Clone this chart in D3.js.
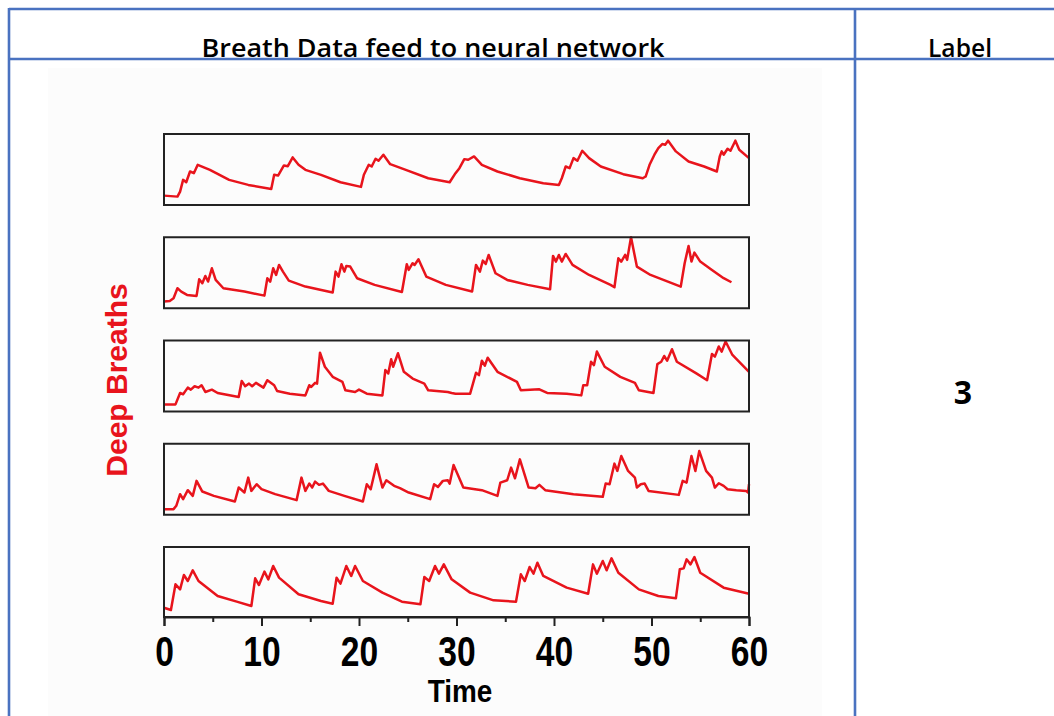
<!DOCTYPE html>
<html>
<head>
<meta charset="utf-8">
<script src="https://cdn.jsdelivr.net/npm/d3@7"></script>
<style>
  body { margin: 0; background: #fff; }
  svg { display: block; }
</style>
</head>
<body>
<svg id="chart" width="1054" height="716"></svg>
<script>
// breath signals: [time, level 0-100]
var deep1 = [[0,13.2],[1.38,11.8],[1.65,18.9],[1.96,35.4],[2.28,32.1],[2.67,47.2],[3.06,44.8],[3.46,56.6],[4.71,49.5],[6.68,35.4],[8.64,28.3],[11.0,22.6],
  [11.3,42.5],[11.7,41.5],[12.3,55.7],[12.7,54.7],[13.2,67.0],[13.8,56.6],[14.5,49.5],[16.1,42.5],[18.1,32.1],[20.2,25.5],
  [20.5,42.5],[21.0,56.6],[21.3,54.2],[21.7,65.1],[22.0,62.3],[22.5,70.8],[23.2,57.5],[24.8,49.5],[27.1,37.7],[29.3,32.1],
  [29.9,44.8],[30.3,51.9],[30.8,64.6],[31.2,63.7],[31.8,68.4],[32.6,56.6],[34.2,47.2],[36.5,37.7],[38.9,30.7],[40.5,28.3],
  [40.8,37.7],[41.2,54.2],[41.6,51.9],[42.0,66.0],[42.4,62.3],[42.9,76.4],[43.6,66.0],[44.8,54.2],[47.1,43.4],[49.1,37.7],[49.4,40.1],
  [49.8,56.6],[50.3,70.8],[50.7,80.2],[51.1,85.8],[51.4,84.9],[51.7,90.6],[52.5,75.5],[53.8,61.3],[55.4,54.2],[56.7,47.2],
  [57.0,68.4],[57.2,75.5],[57.4,70.8],[57.8,79.2],[58.1,76.4],[58.6,90.6],[59.0,77.8],[60.0,66.0]];

var deep2 = [[0,9.4],[0.59,10.3],[0.98,14.1],[1.38,28.2],[1.77,23.5],[2.36,18.8],[3.34,17.4],
  [3.61,40.8],[3.93,35.2],[4.24,45.5],[4.52,37.6],[4.91,56.3],[5.30,39.9],[6.09,28.2],[8.25,23.5],[10.3,17.8],
  [10.6,42.3],[10.9,37.6],[11.2,56.3],[11.5,46.9],[11.8,61.0],[12.2,51.6],[12.8,39.0],[14.5,30.5],[17.3,22.1],
  [17.6,51.6],[17.9,44.6],[18.2,62.0],[18.5,51.6],[18.7,59.6],[19.1,58.7],[19.8,42.3],[21.6,32.9],[24.4,23.0],
  [24.9,62.0],[25.1,54.0],[25.5,63.4],[25.7,61.0],[26.1,69.0],[26.9,44.6],[28.9,32.9],[31.6,23.5],
  [32.0,61.0],[32.4,51.6],[32.7,67.1],[33.0,62.4],[33.3,75.1],[34.0,49.3],[35.2,39.9],[37.3,32.9],[39.6,26.8],
  [39.9,73.7],[40.2,65.7],[40.5,75.1],[40.8,65.7],[41.2,76.5],[41.9,61.0],[43.6,46.9],[45.8,32.9],[46.2,29.6],
  [46.6,70.4],[46.9,65.7],[47.3,75.1],[47.5,68.1],[47.9,100],[48.5,58.7],[49.9,46.9],[53.0,30.5],
  [53.4,63.4],[53.8,87.8],[54.1,65.7],[54.4,78.4],[55.0,65.7],[56.2,54.0],[57.4,42.3],[58.2,36.6]];

var deep3 = [[0,10.0],[1.18,10.0],[1.65,26.1],[1.96,24.2],[2.44,33.6],[2.75,30.8],[3.14,35.5],[3.54,33.6],[3.85,37.0],[4.24,27.5],[4.91,30.8],[5.50,26.1],[7.66,20.4],
  [7.97,43.1],[8.33,35.5],[8.72,39.3],[9.04,35.5],[9.43,40.3],[10.2,33.6],[10.6,44.1],[11.3,37.0],[11.6,28.9],[12.9,25.1],[14.5,22.7],
  [14.9,37.0],[15.1,34.6],[15.5,40.3],[15.7,39.3],[16.0,82.9],[16.5,63.0],[17.3,48.8],[18.3,41.7],[18.6,29.9],[19.6,27.5],[20.0,30.8],[20.8,25.1],[22.4,22.7],
  [22.7,58.3],[23.0,53.6],[23.3,73.5],[23.5,63.0],[24.0,82.0],[24.6,55.9],[25.5,46.4],[26.7,39.3],[27.1,29.9],[29.1,27.5],[29.5,26.1],[29.9,25.1],[31.4,25.1],
  [32.0,54.5],[32.3,51.2],[32.6,71.6],[32.9,64.5],[33.2,75.8],[34.2,55.9],[36.2,41.7],[36.6,29.9],[38.5,31.3],[39.3,26.1],[41.3,25.1],[42.8,22.7],
  [43.0,37.0],[43.4,37.0],[43.8,70.1],[44.1,65.4],[44.4,84.4],[45.2,63.0],[46.8,48.8],[48.3,40.3],[48.7,29.9],[50.2,26.1],
  [50.6,66.8],[51.0,70.1],[51.3,78.2],[51.6,71.6],[52.1,87.7],[52.6,70.1],[54.6,53.6],[55.7,44.1],
  [56.2,81.0],[56.5,77.3],[56.9,91.5],[57.2,84.4],[57.6,98.6],[58.3,79.6],[60.0,55.9]];

var deep4 = [[0,7.9],[0.98,7.9],[1.26,12.6],[1.65,29.0],[1.96,22.0],[2.44,34.6],[2.95,26.6],[3.34,47.7],[3.93,32.7],[5.11,26.6],[7.27,18.7],
  [7.66,38.3],[8.25,31.3],[8.64,52.3],[8.96,33.6],[9.50,43.0],[10.0,36.0],[11.4,29.0],[13.6,20.6],
  [14.1,52.3],[14.5,33.6],[14.9,43.9],[15.2,38.3],[15.5,46.7],[15.9,42.1],[16.3,43.9],[16.9,33.6],[18.5,26.6],[20.4,18.7],
  [20.8,43.0],[21.2,36.0],[21.8,71.0],[22.4,38.3],[22.8,48.6],[23.6,40.7],[24.2,37.4],[25.1,31.3],[27.3,22.0],
  [27.7,43.0],[28.1,39.3],[28.6,47.7],[29.1,48.6],[29.3,43.9],[29.7,70.1],[30.7,38.3],[32.6,34.6],[34.2,26.6],
  [34.5,45.3],[35.2,48.6],[35.6,66.4],[36.0,51.4],[36.5,78.0],[37.4,38.3],[38.1,37.4],[38.5,42.1],[39.1,34.6],[42.0,29.0],[45.0,25.2],
  [45.3,43.9],[45.7,43.0],[46.2,72.0],[46.5,61.7],[46.9,82.7],[47.6,61.7],[48.3,52.3],[48.5,38.3],[48.9,43.0],[49.3,43.9],[49.7,33.6],[52.8,28.0],
  [53.2,47.7],[53.6,45.3],[54.1,82.7],[54.5,61.7],[54.9,89.7],[55.6,61.7],[56.2,52.3],[56.5,38.3],[56.9,44.4],[57.4,40.7],[57.8,36.0],[58.7,34.6],[59.7,33.6],[59.9,31.3],[60.0,43.0]];

var deep5 = [[0,13.3],[0.71,10.0],[1.18,46.7],[1.65,39.5],[2.04,60.0],[2.44,51.4],[2.95,66.7],[3.54,51.4],[5.50,30.0],[7.46,21.9],[8.96,15.7],
  [9.35,55.2],[9.74,45.7],[10.3,64.8],[10.7,53.8],[11.2,72.9],[11.8,56.2],[13.8,32.4],[16.1,22.9],[17.3,19.0],
  [17.7,56.2],[18.1,47.6],[18.7,72.9],[19.2,58.6],[19.6,72.9],[20.4,51.4],[22.4,34.8],[24.4,21.9],[26.3,18.1],
  [26.7,57.1],[27.2,51.4],[27.8,72.9],[28.2,61.9],[28.7,75.2],[29.5,53.8],[31.4,34.8],[33.8,23.8],[36.1,21.9],
  [36.6,61.0],[37.0,51.4],[37.5,71.4],[37.9,61.9],[38.3,77.6],[38.9,58.6],[41.3,41.9],[43.5,33.3],
  [44.0,75.2],[44.4,61.9],[45.0,80.0],[45.4,66.7],[45.9,83.8],[46.6,63.3],[48.7,39.5],[50.7,30.0],[52.5,26.7],
  [52.9,68.1],[53.3,69.5],[53.6,82.4],[54.0,75.2],[54.4,85.7],[55.0,63.3],[57.4,41.9],[60.0,33.3]];

var panels = [deep1, deep2, deep3, deep4, deep5];
var timeTicks = [0, 10, 20, 30, 40, 50, 60];
var minorTicks = [5, 15, 25, 35, 45, 55];
var headerTitle = "Breath Data feed to neural network";
var labelTitle = "Label";
var labelValue = "3";
var yTitle = "Deep Breaths";
var xTitle = "Time";

var svg = d3.select("#chart");
var blue = "#4a72c0";
var red = "#e8141c";

// pasted picture background
svg.append("rect").attr("x", 48).attr("y", 68).attr("width", 774).attr("height", 648).attr("fill", "#fcfcfc");

// table lines
var tbl = svg.append("g").attr("stroke", blue).attr("stroke-width", 2.6).attr("fill", "none");
tbl.append("line").attr("x1", 9).attr("x2", 1054).attr("y1", 9).attr("y2", 9);
tbl.append("line").attr("x1", 9).attr("x2", 1054).attr("y1", 59).attr("y2", 59);
tbl.append("line").attr("x1", 9).attr("x2", 9).attr("y1", 8).attr("y2", 716);
tbl.append("line").attr("x1", 855).attr("x2", 855).attr("y1", 8).attr("y2", 716);

svg.append("text").attr("x", 433).attr("y", 57).attr("text-anchor", "middle")
    .attr("font-family", "Open Sans, sans-serif").attr("font-size", 26).attr("font-weight", 600)
    .attr("textLength", 463).attr("lengthAdjust", "spacingAndGlyphs")
    .attr("fill", "#000").text(headerTitle);
svg.append("text").attr("x", 960).attr("y", 57).attr("text-anchor", "middle")
    .attr("font-family", "Open Sans, sans-serif").attr("font-size", 26).attr("font-weight", 600)
    .attr("textLength", 64).attr("lengthAdjust", "spacingAndGlyphs")
    .attr("fill", "#000").text(labelTitle);
svg.append("text").attr("x", 963).attr("y", 404).attr("text-anchor", "middle")
    .attr("font-family", "Open Sans, sans-serif").attr("font-size", 32).attr("font-weight", "bold")
    .attr("fill", "#000").text(labelValue);

// panels
var left = 164, right = 749, top0 = 134, step = 103.25, ph = 71;
var x = d3.scaleLinear().domain([0, 60]).range([left, right]);

panels.forEach(function(data, i) {
    var top = top0 + i * step;
    var h = (i == panels.length - 1) ? 617 - top : ph;
    var y = d3.scaleLinear().domain([0, 100]).range([top + h, top]);
    var line = d3.line().x(function(d) { return x(d[0]); }).y(function(d) { return y(d[1]); });
    svg.append("path").datum(data).attr("d", line)
        .attr("fill", "none").attr("stroke", red).attr("stroke-width", 2.5)
        .attr("stroke-linejoin", "round");
    svg.append("rect").attr("x", left).attr("y", top).attr("width", right - left).attr("height", h)
        .attr("fill", "none").attr("stroke", "#222").attr("stroke-width", 2);
});

// time axis under the last panel
var axis = svg.append("g").attr("transform", "translate(0,617)")
    .call(d3.axisBottom(x).tickValues(timeTicks).tickSize(9).tickPadding(10).tickFormat(d3.format("d")));
axis.select(".domain").attr("stroke", "#222").attr("stroke-width", 2);
axis.selectAll(".tick line").attr("stroke", "#222").attr("stroke-width", 2);
axis.selectAll(".tick text").attr("fill", "#000")
    .attr("font-family", "Liberation Sans, Arial, sans-serif")
    .attr("font-weight", "bold").attr("font-size", 42)
    .attr("transform", "scale(0.8,1)");
var minor = svg.append("g").attr("transform", "translate(0,617)")
    .call(d3.axisBottom(x).tickValues(minorTicks).tickSize(5).tickFormat(""));
minor.select(".domain").remove();
minor.selectAll(".tick line").attr("stroke", "#222").attr("stroke-width", 2);

svg.append("text").attr("transform", "translate(460,702) scale(0.9,1)").attr("text-anchor", "middle")
    .attr("font-family", "Liberation Sans, Arial, sans-serif").attr("font-weight", "bold")
    .attr("font-size", 31).attr("fill", "#000").text(xTitle);

svg.append("text").attr("transform", "translate(127,380) rotate(-90)").attr("text-anchor", "middle")
    .attr("font-family", "Liberation Sans, Arial, sans-serif").attr("font-weight", "bold")
    .attr("font-size", 30).attr("fill", red).text(yTitle);
</script>
</body>
</html>
